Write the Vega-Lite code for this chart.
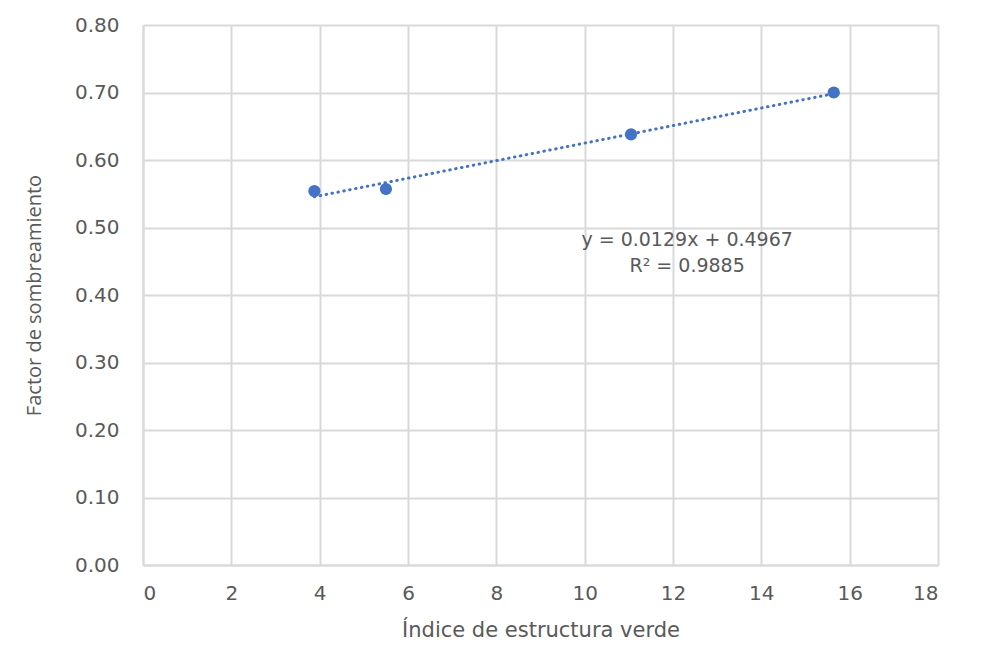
{
  "$schema": "https://vega.github.io/schema/vega-lite/v6.json",
  "width": 795,
  "height": 540,
  "autosize": {"type": "none"},
  "padding": {"left": 143, "top": 25, "right": 43, "bottom": 106},
  "background": "white",
  "config": {
    "font": "DejaVu Sans",
    "view": {"stroke": null},
    "axis": {
      "labelColor": "#595959",
      "titleColor": "#595959",
      "labelFont": "DejaVu Sans",
      "labelFontSize": 20,
      "titleFontWeight": "normal",
      "gridColor": "#d9d9d9",
      "gridWidth": 2,
      "domainColor": "#d9d9d9",
      "domainWidth": 2,
      "ticks": false
    }
  },
  "datasets": {
    "pts": [
      {"iev": 3.88, "fs": 0.554},
      {"iev": 5.50, "fs": 0.557},
      {"iev": 11.05, "fs": 0.638},
      {"iev": 15.64, "fs": 0.700}
    ],
    "eq": [
      {"iev": 12.32, "fs": 0.481, "label": ["y = 0.0129x + 0.4967", "R² = 0.9885"]}
    ]
  },
  "layer": [
    {
      "data": {"name": "pts"},
      "transform": [{"regression": "fs", "on": "iev"}],
      "mark": {"type": "line", "color": "#4472C4", "strokeWidth": 3, "strokeDash": [0.5, 5.5], "strokeCap": "round"},
      "encoding": {
        "x": {"field": "iev", "type": "quantitative", "scale": {"domain": [0, 18], "nice": false}, "axis": {"values": [0,2,4,6,8,10,12,14,16,18], "title": "Índice de estructura verde", "titleFont": "DejaVu Sans", "titleFontSize": 21, "labelPadding": 18, "titlePadding": 16}},
        "y": {"field": "fs", "type": "quantitative", "scale": {"domain": [0, 0.8], "nice": false}, "axis": {"values": [0,0.1,0.2,0.3,0.4,0.5,0.6,0.7,0.8], "format": ".2f", "title": "Factor de sombreamiento", "titleFont": "Open Sans", "titleFontSize": 20, "labelPadding": 24, "titlePadding": 30}}
      }
    },
    {
      "data": {"name": "pts"},
      "mark": {"type": "point", "filled": true, "opacity": 1, "color": "#4472C4", "size": 150},
      "encoding": {
        "x": {"field": "iev", "type": "quantitative"},
        "y": {"field": "fs", "type": "quantitative"}
      }
    },
    {
      "data": {"name": "eq"},
      "mark": {"type": "text", "align": "center", "baseline": "middle", "font": "DejaVu Sans", "fontSize": 19, "color": "#595959", "lineHeight": 26},
      "encoding": {
        "x": {"field": "iev", "type": "quantitative"},
        "y": {"field": "fs", "type": "quantitative"},
        "text": {"field": "label"}
      }
    }
  ]
}
